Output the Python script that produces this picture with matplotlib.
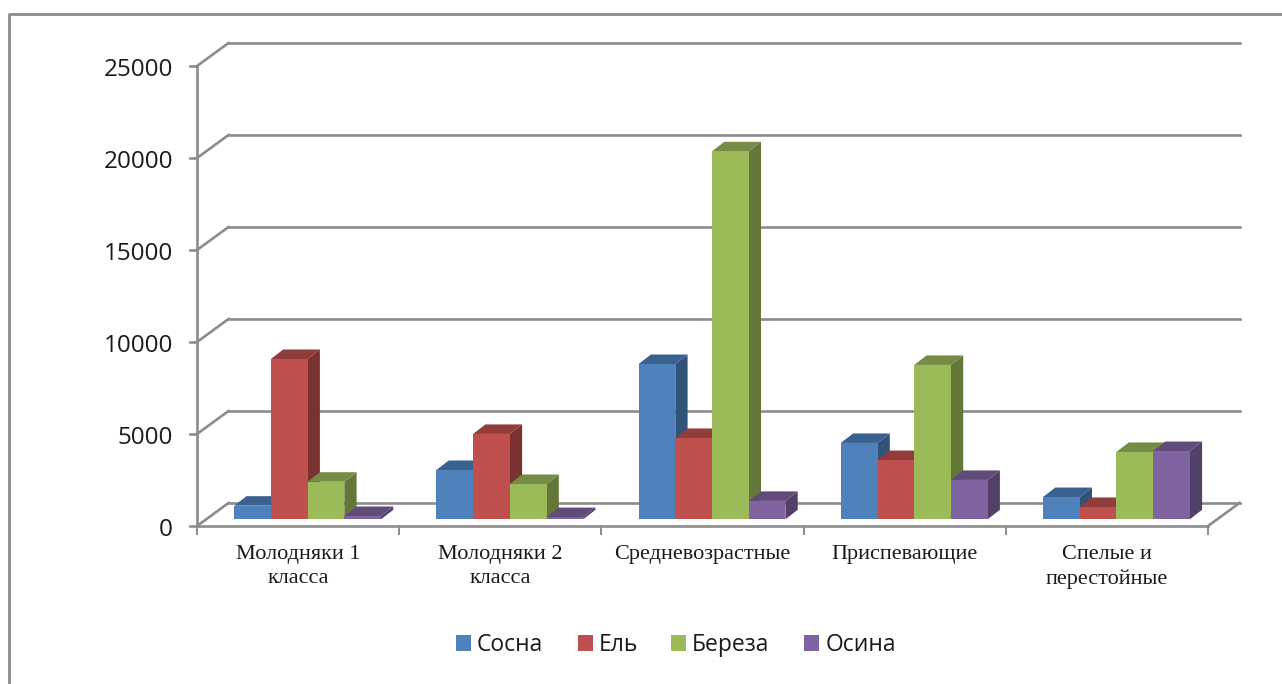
import matplotlib
matplotlib.use("Agg")
import matplotlib.pyplot as plt
from matplotlib.patches import Polygon, Rectangle
from matplotlib.lines import Line2D
from matplotlib.transforms import Affine2D

# Data
categories = ["Молодняки 1\nкласса", "Молодняки 2\nкласса", "Средневозрастные",
              "Приспевающие", "Спелые и\nперестойные"]
sosna = [740, 2680, 8440, 4150, 1210]
el = [8712, 4640, 4420, 3220, 670]
bereza = [2043, 1920, 20000, 8390, 3660]
osina = [180, 120, 1000, 2140, 3710]
series_names = ["Сосна", "Ель", "Береза", "Осина"]
y_ticks = [0, 5000, 10000, 15000, 20000, 25000]

front_colors = ["#4f81bd", "#c0504d", "#9bbb59", "#8064a2"]
top_colors = ["#3b6190", "#8f3c3a", "#748c43", "#604b7a"]
side_colors = ["#325379", "#7a3230", "#637739", "#524068"]
grid_color = "#8c8c8c"
grid_lw = 1.9

W, H = 1282, 684
fig = plt.figure(figsize=(W / 100, H / 100), dpi=100)

# front plane of the chart box, in pixels
left, right, top, bottom = 197, 1208, 66, 526
ax = fig.add_axes([left / W, 1 - bottom / H, (right - left) / W, (bottom - top) / H])
ax.set_xlim(0, 5)
ax.set_ylim(0, 25000)
ax.axis("off")

# depth offsets in pixels
back = ax.transData + Affine2D().translate(31.5, 23)
bar_front = ax.transData + Affine2D().translate(9.5, 6.7)


def px_x(p):
    return p * 5 / (right - left)


def px_y(p):
    return p * 25000 / (bottom - top)


# walls and gridlines
for v in y_ticks:
    ax.plot([0, 5], [v, v], transform=back, color=grid_color, lw=grid_lw, clip_on=False, zorder=1)
    ax.plot([0, px_x(31.5)], [v, v + px_y(23)], color=grid_color, lw=grid_lw, clip_on=False, zorder=1)
    ax.plot([-px_x(7), 0], [v, v], color=grid_color, lw=grid_lw, clip_on=False, zorder=1)
ax.plot([0, 0], [0, 25000], color=grid_color, lw=grid_lw, clip_on=False, zorder=1)
ax.plot([0, 5], [0, 0], color=grid_color, lw=grid_lw, clip_on=False, zorder=1)
ax.plot([5, 5 + px_x(31.5)], [0, px_y(23)], color=grid_color, lw=grid_lw, clip_on=False, zorder=1)
for i in range(6):
    ax.plot([i, i], [0, -px_y(8)], color=grid_color, lw=1.4, clip_on=False, zorder=1)

# bars, drawn left to right so each hides the side of the previous one
bar_w = 36.7
gap = (202.2 - 4 * bar_w) / 2
depth_x, depth_y = px_x(12.3), px_y(9.5)
all_series = [sosna, el, bereza, osina]
order = 2
for c in range(len(categories)):
    for s, vals in enumerate(all_series):
        x0 = c + px_x(gap + s * bar_w)
        x1 = x0 + px_x(bar_w)
        v = vals[c]
        ax.add_patch(Polygon([(x1, 0), (x1 + depth_x, depth_y), (x1 + depth_x, v + depth_y), (x1, v)],
                             transform=bar_front, facecolor=side_colors[s], edgecolor="none",
                             clip_on=False, zorder=order))
        ax.add_patch(Polygon([(x0, v), (x1, v), (x1 + depth_x, v + depth_y), (x0 + depth_x, v + depth_y)],
                             transform=bar_front, facecolor=top_colors[s], edgecolor="none",
                             clip_on=False, zorder=order))
        ax.add_patch(Rectangle((x0, 0), x1 - x0, v, transform=bar_front, facecolor=front_colors[s],
                               edgecolor="none", clip_on=False, zorder=order + 1))
        order += 2

# tick labels
for v in y_ticks:
    ax.text(-px_x(24), v - px_y(10), str(v), ha="right", va="baseline", fontsize=17.5, family="Open Sans",
            color="#1a1a1a", clip_on=False)
for i, name in enumerate(categories):
    ax.text(i + 0.5, -px_y(19), name, ha="center", va="top", fontsize=16, family="Liberation Serif",
            color="#1a1a1a", linespacing=1.38, clip_on=False)

# legend
legend_x = [456, 578, 671, 804]
label_x = [477, 599, 692, 826]
for name, color, sx, lx in zip(series_names, front_colors, legend_x, label_x):
    fig.add_artist(Rectangle((sx / W, 1 - 651 / H), 15 / W, 16 / H, transform=fig.transFigure,
                             facecolor=color, edgecolor="none"))
    fig.text(lx / W, 1 - 651 / H, name, ha="left", va="baseline", fontsize=16.5, family="Open Sans",
             color="#1a1a1a")

# outer frame
fig.add_artist(Line2D([8.5 / W, 8.5 / W, 1], [0, 1 - 13.5 / H, 1 - 13.5 / H],
                      transform=fig.transFigure, color="#8c8c8c", lw=2))

fig.savefig("out.png", dpi=100)
